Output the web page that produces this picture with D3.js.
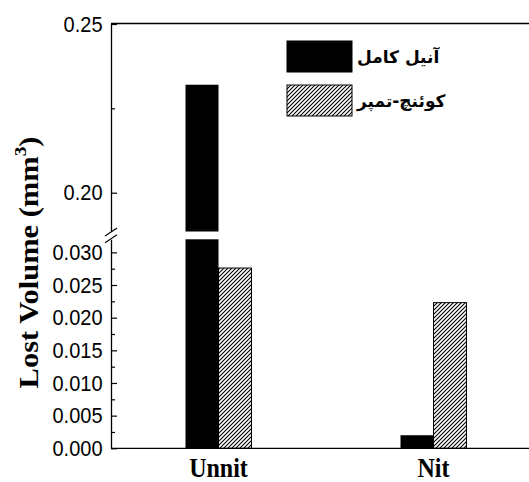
<!DOCTYPE html>
<html>
<head>
<meta charset="utf-8">
<script src="https://cdn.jsdelivr.net/npm/d3@7"></script>
<style>
  html, body { margin: 0; padding: 0; background: #fff; }
  svg { display: block; }
</style>
</head>
<body>
<svg id="chart" width="529" height="482"></svg>
<script>
// ---- data ----
const categories = ["Unnit", "Nit"];
const seriesNames = ["آنیل کامل", "کوئنچ-تمپر"];
const fullAnneal = [0.232, 0.002];
const quenchTemper = [0.0276, 0.0223];
const lowTicks = [0.000, 0.005, 0.010, 0.015, 0.020, 0.025, 0.030];
const lowMinorTicks = [0.0025, 0.0075, 0.0125, 0.0175, 0.0225, 0.0275];
const highTicks = [0.20, 0.25];
const highMinorTicks = [0.225];
const lowDomain = [0, 0.032];
const highDomain = [0.1885, 0.25];

// ---- layout ----
const W = 529, H = 482;
const axisX = 111;
const plotRight = 541;
const lowRange = [448.3, 239.3];
const highRange = [231.5, 24];
const topLineY = 23.5;
const vStretch = 1.13;

const svg = d3.select("#chart");

const defs = svg.append("defs");
const pat = defs.append("pattern")
  .attr("id", "hatch")
  .attr("patternUnits", "userSpaceOnUse")
  .attr("width", 4).attr("height", 4);
pat.append("rect").attr("width", 4).attr("height", 4).attr("fill", "#fff");
pat.append("path")
  .attr("d", "M-1,1 l2,-2 M0,4 l4,-4 M3,5 l2,-2")
  .attr("stroke", "#000").attr("stroke-width", 1.1);

const x = d3.scaleBand().domain(categories).range([axisX, plotRight]).paddingInner(0.693).paddingOuter(0.3465);
const xs = d3.scaleBand().domain(seriesNames).range([0, x.bandwidth()]);
const yLow = d3.scaleLinear().domain(lowDomain).range(lowRange);
const yHigh = d3.scaleLinear().domain(highDomain).range(highRange);

const fills = ["#000", "url(#hatch)"];
const seriesData = [fullAnneal, quenchTemper];

// bars
seriesData.forEach((vals, si) => {
  const g = svg.append("g");
  vals.forEach((v, ci) => {
    const bx = x(categories[ci]) + xs(seriesNames[si]);
    const bw = xs.bandwidth();
    const lowTop = yLow(Math.min(v, lowDomain[1]));
    g.append("rect")
      .attr("x", bx).attr("y", lowTop)
      .attr("width", bw).attr("height", yLow(0) - lowTop)
      .attr("fill", fills[si])
      .attr("stroke", "#000").attr("stroke-width", si === 1 ? 1 : 0);
    if (v > highDomain[0]) {
      const hTop = yHigh(v);
      g.append("rect")
        .attr("x", bx).attr("y", hTop)
        .attr("width", bw).attr("height", yHigh(highDomain[0]) - hTop)
        .attr("fill", fills[si])
        .attr("stroke", "#000").attr("stroke-width", si === 1 ? 1 : 0);
    }
  });
});

// axes
function styleAxis(g) {
  g.selectAll("path.domain").attr("stroke", "#000").attr("stroke-width", 1.3);
  g.selectAll(".tick line").attr("stroke", "#000").attr("stroke-width", 1.2);
  g.selectAll(".tick text")
    .attr("font-family", "'Liberation Sans', Arial, sans-serif")
    .attr("font-size", 20)
    .attr("fill", "#000")
    .attr("transform", `scale(1,${vStretch})`);
}

const lowAxis = svg.append("g").attr("transform", `translate(${axisX},0)`)
  .call(d3.axisLeft(yLow).tickValues(lowTicks).tickFormat(d3.format(".3f"))
    .tickSize(-6).tickSizeOuter(0).tickPadding(8.5));
styleAxis(lowAxis);
const lowMinor = svg.append("g").attr("transform", `translate(${axisX},0)`)
  .call(d3.axisLeft(yLow).tickValues(lowMinorTicks).tickFormat("").tickSize(-4).tickSizeOuter(0));
lowMinor.select("path.domain").remove();
styleAxis(lowMinor);

const highAxis = svg.append("g").attr("transform", `translate(${axisX},0)`)
  .call(d3.axisLeft(yHigh).tickValues(highTicks).tickFormat(d3.format(".2f"))
    .tickSize(-6).tickSizeOuter(0).tickPadding(8.5));
styleAxis(highAxis);
const highMinor = svg.append("g").attr("transform", `translate(${axisX},0)`)
  .call(d3.axisLeft(yHigh).tickValues(highMinorTicks).tickFormat("").tickSize(-4).tickSizeOuter(0));
highMinor.select("path.domain").remove();
styleAxis(highMinor);

// break marks
const breakCenters = [yHigh.range()[0] + 0.5, yLow.range()[1] - 0.5];
breakCenters.forEach(cy => {
  svg.append("line")
    .attr("x1", axisX - 6).attr("y1", cy + 4)
    .attr("x2", axisX + 6).attr("y2", cy - 4)
    .attr("stroke", "#000").attr("stroke-width", 1.2);
});

// top border line
svg.append("line")
  .attr("x1", axisX).attr("x2", W).attr("y1", topLineY).attr("y2", topLineY)
  .attr("stroke", "#000").attr("stroke-width", 1.3);

// bottom axis
const xAxis = svg.append("g").attr("transform", `translate(0,${yLow(0)})`)
  .call(d3.axisBottom(x).tickSize(0).tickSizeOuter(0).tickPadding(0));
xAxis.select("path.domain").attr("d", `M${axisX},0H${W}`).attr("stroke", "#000").attr("stroke-width", 1.3);
xAxis.selectAll(".tick text")
  .attr("font-family", "'Liberation Serif', 'Times New Roman', serif")
  .attr("font-weight", "bold")
  .attr("font-size", 24)
  .attr("fill", "#000")
  .attr("dy", 0)
  .attr("y", 0)
  .attr("transform", `translate(0,28.5) scale(1,${vStretch})`);

// y title
const yt = svg.append("text")
  .attr("transform", `translate(37.5,262.5) rotate(-90) scale(${vStretch},1)`)
  .attr("text-anchor", "middle")
  .attr("font-family", "'Liberation Serif', 'Times New Roman', serif")
  .attr("font-weight", "bold")
  .attr("font-size", 27)
  .attr("fill", "#000");
yt.append("tspan").text("Lost Volume (mm");
yt.append("tspan").attr("font-size", 17).attr("dy", -12).text("3");
yt.append("tspan").attr("dy", 12).text(")");

// legend
const legend = svg.append("g");
seriesNames.forEach((name, i) => {
  const ly = 41 + i * 44;
  legend.append("rect")
    .attr("x", 287).attr("y", ly).attr("width", 65).attr("height", 31)
    .attr("fill", fills[i]).attr("stroke", "#000").attr("stroke-width", 1);
  legend.append("text")
    .attr("x", 357).attr("y", ly + 22)
    .attr("font-family", "'DejaVu Sans', sans-serif")
    .attr("font-weight", "bold")
    .attr("font-size", 17)
    .attr("fill", "#000")
    .text(name);
});
</script>
</body>
</html>
